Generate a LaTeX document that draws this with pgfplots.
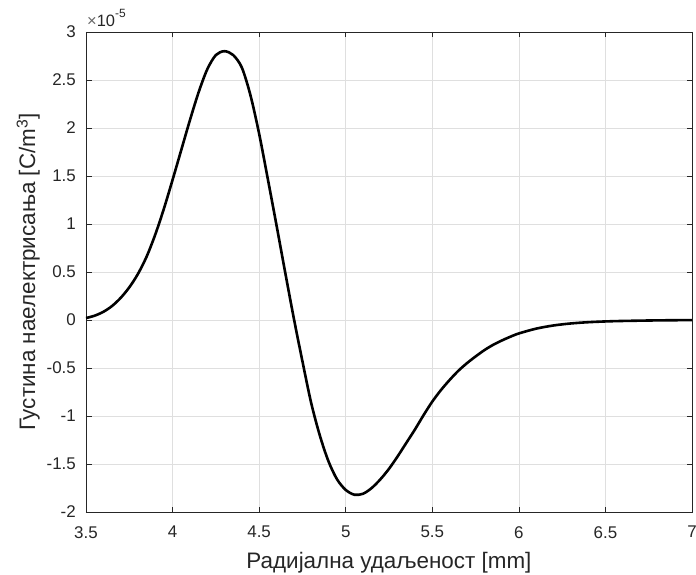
\documentclass[border=0pt]{standalone}
\usepackage{fontspec}
\setmainfont{Liberation Sans}
\usepackage{pgfplots}
\pgfplotsset{compat=1.18}
\usepackage{pgfplotstable}

\definecolor{axcol}{RGB}{38,38,38}
\definecolor{gridcol}{RGB}{223,223,223}

% Charge density profile, values in units of 1e-5 C/m^3
\pgfplotstableread{
r     rho
3.50  0.02
3.55  0.045
3.60  0.085
3.65  0.145
3.70  0.23
3.75  0.34
3.80  0.48
3.85  0.66
3.90  0.89
3.95  1.16
4.00  1.46
4.05  1.77
4.10  2.08
4.15  2.37
4.20  2.61
4.25  2.76
4.30  2.80
4.35  2.76
4.40  2.63
4.45  2.34
4.50  1.94
4.55  1.47
4.60  0.99
4.65  0.50
4.70  0.02
4.75  -0.43
4.80  -0.86
4.85  -1.20
4.90  -1.47
4.95  -1.66
5.00  -1.77
5.05  -1.82
5.10  -1.81
5.15  -1.75
5.20  -1.66
5.25  -1.55
5.30  -1.42
5.35  -1.28
5.40  -1.14
5.45  -0.99
5.50  -0.85
5.55  -0.73
5.60  -0.625
5.65  -0.53
5.70  -0.45
5.75  -0.38
5.80  -0.315
5.85  -0.26
5.90  -0.215
5.95  -0.175
6.00  -0.14
6.10  -0.09
6.20  -0.057
6.30  -0.036
6.40  -0.023
6.50  -0.015
6.60  -0.010
6.80  -0.004
7.00  -0.001
}\rhodata

\begin{document}
\begin{tikzpicture}
\useasboundingbox (0,0) rectangle (696bp,575bp);
\begin{axis}[
  at={(86bp,63bp)}, anchor=south west,
  scale only axis,
  width=606bp, height=480bp,
  xmin=3.5, xmax=7, ymin=-2, ymax=3,
  xtick={3.5,4,...,7}, ytick={-2,-1.5,...,3},
  xticklabels={3.5,4,4.5,5,5.5,6,6.5,7},
  yticklabels={-2,-1.5,-1,-0.5,0,0.5,1,1.5,2,2.5,3},
  grid=major,
  major grid style={gridcol, line width=0.6bp},
  axis line style={axcol, line width=0.7bp},
  tick style={axcol, line width=0.7bp},
  major tick length=5.5bp,
  tick align=inside,
  xtick pos=both, ytick pos=both,
  tick label style={font=\fontsize{17}{20}\selectfont, text=axcol},
  xticklabel style={inner sep=0pt, anchor=north, yshift=-14bp},
  yticklabel style={inner sep=0pt, anchor=east, xshift=-10bp},
  /pgf/number format/assume math mode=true,
  xlabel={Радијална удаљеност [mm]},
  ylabel={Густина наелектрисања [C/m\textsuperscript{3}]},
  label style={font=\fontsize{22.5}{26}\selectfont, text=axcol},
  xlabel style={inner sep=0pt, anchor=base, at={(axis description cs:0.5,0)}, yshift=-56bp},
  ylabel style={inner sep=0pt, anchor=base, at={(axis description cs:0,0.5)}, yshift=51bp},
  clip mode=individual,
]
\addplot[black, line width=2.6bp, line join=round, smooth] table[x=r, y=rho] {\rhodata};
% power-of-ten multiplier above the y axis
\node[anchor=base west, inner sep=0pt, text=axcol]
  at (rel axis cs:0,1) [xshift=1bp, yshift=5bp]
  {\fontsize{16.5}{19}\selectfont{\color{axcol!70}×}10\raisebox{9bp}{\fontsize{12}{14}\selectfont -5}};
\end{axis}
\end{tikzpicture}
\end{document}
